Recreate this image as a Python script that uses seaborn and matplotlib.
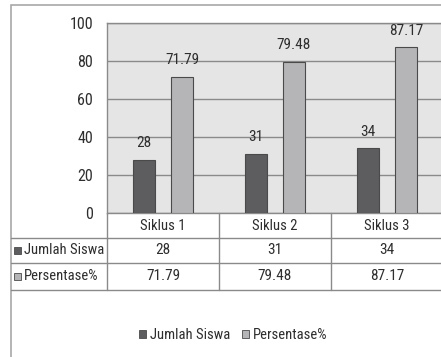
import matplotlib
matplotlib.use("Agg")
import matplotlib.pyplot as plt
from matplotlib import font_manager
from matplotlib.lines import Line2D
from matplotlib.patches import Rectangle, Patch
import seaborn as sns
import pandas as pd

categories = ["Siklus 1", "Siklus 2", "Siklus 3"]
jumlah_siswa = [28, 31, 34]
persentase = [71.79, 79.48, 87.17]
series_names = ["Jumlah Siswa", "Persentase%"]
yticks = [0, 20, 40, 60, 80, 100]

sns.set_theme(style="white")

# pick a condensed font if one is installed
entries = font_manager.fontManager.ttflist
chosen = None
for want in ["Liberation Sans Narrow", "Roboto Condensed", "Open Sans Condensed"]:
    for f in entries:
        if f.name == want and f.weight in (400, "normal", "regular") and f.style == "normal":
            chosen = f
            break
    if chosen:
        break
if chosen is None:
    for f in entries:
        low = (f.fname or "").lower()
        if ("condensed" in low or "narrow" in low) and "bold" not in low and "oblique" not in low \
                and "italic" not in low and "light" not in low and "mono" not in low and "serif" not in low.replace("sans", ""):
            chosen = f
            break
if chosen is not None:
    plt.rcParams["font.family"] = [chosen.name, "DejaVu Sans"]
    plt.rcParams["font.stretch"] = chosen.stretch
    FS_TICK, FS = 11.5, 10.5
else:
    plt.rcParams["font.family"] = ["DejaVu Sans"]
    FS_TICK, FS = 9.5, 8.8

DARK = "#5d5c5f"
LIGHT = "#b5b4b7"
BG = "#e5e5e5"
GRID = "#8a8a8a"
TXT = "#2e2e2e"

df = pd.DataFrame({
    "Siklus": categories * 2,
    "Seri": [series_names[0]] * 3 + [series_names[1]] * 3,
    "Nilai": jumlah_siswa + persentase,
})

W, H = 441, 357
fig = plt.figure(figsize=(W / 100, H / 100), dpi=100)
fig.patch.set_facecolor("white")

def fx(px):
    return px / W

def fy(py):
    return 1 - py / H

ax_left, ax_right, ax_top, ax_bot = 107, 443, 23, 213
ax = fig.add_axes([fx(ax_left), fy(ax_bot), fx(ax_right - ax_left), (ax_bot - ax_top) / H])
ax.set_facecolor(BG)

sns.barplot(data=df, x="Siklus", y="Nilai", hue="Seri", order=categories,
            hue_order=series_names, palette={series_names[0]: DARK, series_names[1]: LIGHT},
            width=0.68, gap=0.4, edgecolor="#4a4a4a", linewidth=0.8,
            saturation=1, ax=ax, legend=False, zorder=3)

ax.set_xlim(-0.5, 2.5)
ax.set_ylim(0, 100)
ax.set_yticks(yticks)
ax.set_yticklabels([str(v) for v in yticks], fontsize=FS_TICK, color=TXT)
ax.tick_params(axis="y", length=0, pad=10)
ax.set_xticks([])
ax.set_xlabel("")
ax.set_ylabel("")
ax.yaxis.grid(True, color=GRID, linewidth=1.0, zorder=0)
ax.set_axisbelow(True)
for s in ["top", "left", "bottom", "right"]:
    ax.spines[s].set_color(GRID)
    ax.spines[s].set_linewidth(1.0)
ax.spines["right"].set_visible(False)

for cont in ax.containers:
    ax.bar_label(cont, labels=[f"{v:g}" for v in cont.datavalues], padding=7,
                 fontsize=FS_TICK - 0.5, color=TXT)

# outer border
fig.add_artist(Rectangle((fx(11), fy(400)), fx(500), (400 - 5) / H, transform=fig.transFigure,
                         fill=False, edgecolor="#a8a8a8", linewidth=1.2))

# data table
row_y = [213, 238, 263, 290]
col_x = [107, 219, 331, 443]
for y in row_y[1:]:
    fig.add_artist(Line2D([fx(11), fx(443)], [fy(y), fy(y)], transform=fig.transFigure,
                          color=GRID, linewidth=1.0))
for x in col_x[:3]:
    fig.add_artist(Line2D([fx(x), fx(x)], [fy(213), fy(290)], transform=fig.transFigure,
                          color=GRID, linewidth=1.0))

for i, cat in enumerate(categories):
    cx = (col_x[i] + col_x[i + 1]) / 2
    fig.text(fx(cx), fy((row_y[0] + row_y[1]) / 2), cat, ha="center", va="center",
             fontsize=FS, color=TXT)
    fig.text(fx(cx), fy((row_y[1] + row_y[2]) / 2), f"{jumlah_siswa[i]:g}", ha="center",
             va="center", fontsize=FS_TICK - 0.5, color=TXT)
    fig.text(fx(cx), fy((row_y[2] + row_y[3]) / 2), f"{persentase[i]:g}", ha="center",
             va="center", fontsize=FS_TICK - 0.5, color=TXT)

for r, (name, col) in enumerate(zip(series_names, [DARK, LIGHT])):
    yc = (row_y[r + 1] + row_y[r + 2]) / 2
    fig.add_artist(Rectangle((fx(14), fy(yc + 3.5)), fx(7), 7 / H, transform=fig.transFigure,
                             facecolor=col, edgecolor="#4a4a4a", linewidth=0.6))
    fig.text(fx(24), fy(yc), name, ha="left", va="center", fontsize=FS, color=TXT)

handles = [Patch(facecolor=DARK, edgecolor="#4a4a4a", linewidth=0.6),
           Patch(facecolor=LIGHT, edgecolor="#4a4a4a", linewidth=0.6)]
fig.legend(handles, series_names, loc="center", bbox_to_anchor=(fx(233), fy(335)),
           ncol=2, frameon=False, fontsize=FS, handlelength=0.5, handleheight=0.5,
           handletextpad=0.25, columnspacing=0.8, labelcolor=TXT)

fig.savefig("out.png", dpi=100)
